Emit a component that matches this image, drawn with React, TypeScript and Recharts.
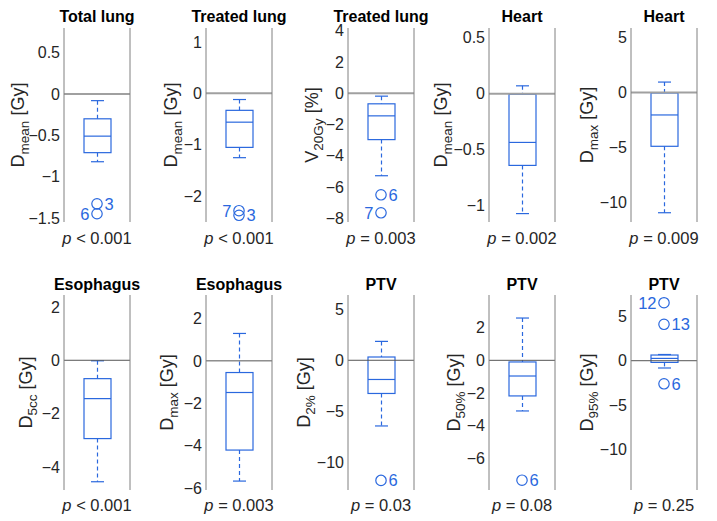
import React from "react";
import { ComposedChart, Bar, Scatter, XAxis, YAxis, ReferenceLine } from "recharts";

// panel text
const panelTitles = ["Total lung", "Treated lung", "Treated lung", "Heart", "Heart", "Esophagus", "Esophagus", "PTV", "PTV", "PTV"];
const yLabelMain = ["D", "D", "V", "D", "D", "D", "D", "D", "D", "D"];
const yLabelSub = ["mean", "mean", "20Gy", "mean", "max", "5cc", "max", "2%", "50%", "95%"];
const yLabelUnit = ["[Gy]", "[Gy]", "[%]", "[Gy]", "[Gy]", "[Gy]", "[Gy]", "[Gy]", "[Gy]", "[Gy]"];
const pValues = ["< 0.001", "< 0.001", "= 0.003", "= 0.002", "= 0.009", "< 0.001", "= 0.003", "= 0.03", "= 0.08", "= 0.25"];

// box statistics (differences)
const boxLow = [-0.82, -1.25, -5.28, -1.07, -10.9, -4.56, -5.66, -6.43, -3.1, -0.82];
const boxQ1 = [-0.71, -1.05, -2.97, -0.64, -4.88, -2.94, -4.2, -3.25, -2.18, -0.19];
const boxMedian = [-0.51, -0.56, -1.45, -0.435, -2.04, -1.44, -1.49, -1.88, -0.96, 0.26];
const boxQ3 = [-0.3, -0.33, -0.68, -0.005, -0.05, -0.69, -0.55, 0.32, -0.1, 0.64];
const boxHigh = [-0.08, -0.12, -0.19, 0.07, 0.94, -0.02, 1.29, 1.85, 2.59, 0.7];

// outliers with patient numbers
const outlierValues = [[-1.33, -1.45], [-2.28, -2.37], [-6.5, -7.65], [], [], [], [], [-11.76], [-7.34], [6.53, 4.1, -2.6]];
const outlierLabels = [["3", "6"], ["7", "3"], ["6", "7"], [], [], [], [], ["6"], ["6"], ["12", "13", "6"]];
const outlierSides = [["right", "left"], ["left", "right"], ["right", "left"], [], [], [], [], ["right"], ["right"], ["left", "right", "right"]];

// axes
const yDomains = [[-1.55, 0.8], [-2.5, 1.27], [-8.24, 4.17], [-1.145, 0.586], [-11.74, 5.84], [-4.87, 2.45], [-6.08, 3.1], [-12.7, 6.39], [-7.94, 4.0], [-14.56, 7.4]];
const yTicks = [
  [-1.5, -1, -0.5, 0, 0.5],
  [-2, -1, 0, 1],
  [-8, -6, -4, -2, 0, 2, 4],
  [-1, -0.5, 0, 0.5],
  [-10, -5, 0, 5],
  [-4, -2, 0, 2],
  [-6, -4, -2, 0, 2],
  [-10, -5, 0, 5],
  [-6, -4, -2, 0, 2],
  [-10, -5, 0, 5],
];

const PLOT_LEFT = [64, 206, 348, 489, 631];
const PLOT_W = 66;
const ROW_TOP = [28, 295];
const ROW_BOTTOM = [222, 490];
const LABEL_DX = [40, 29, 30, 42, 38, 32, 33, 38, 29, 38];
const BLUE = "#2a68de";
const FRAME = "#808080";
const FONT = "'Liberation Sans', Arial, sans-serif";

const fmt = (v: number) => String(v).replace("-", "\u2212");

const BoxShape = (props: any) => {
  const { x, y, width, height, payload } = props;
  const top = Math.min(y, y + height);
  const bottom = Math.max(y, y + height);
  const { lo, hi, q1, q3, med } = payload;
  const px = (v: number) => top + ((hi - v) / (hi - lo)) * (bottom - top);
  const cx = x + width / 2;
  const cap = 6.5;
  return (
    <g stroke={BLUE} strokeWidth={1.2} fill="none">
      <line x1={cx} x2={cx} y1={px(hi)} y2={px(q3)} strokeDasharray="4 3" />
      <line x1={cx} x2={cx} y1={px(q1)} y2={px(lo)} strokeDasharray="4 3" />
      <line x1={cx - cap} x2={cx + cap} y1={px(hi)} y2={px(hi)} />
      <line x1={cx - cap} x2={cx + cap} y1={px(lo)} y2={px(lo)} />
      <rect x={x} y={px(q3)} width={width} height={px(q1) - px(q3)} />
      <line x1={x} x2={x + width} y1={px(med)} y2={px(med)} />
    </g>
  );
};

const OutlierShape = (props: any) => {
  const { cx, cy, payload } = props;
  const right = payload.side === "right";
  return (
    <g>
      <circle cx={cx} cy={cy} r={5.2} fill="none" stroke={BLUE} strokeWidth={1.2} />
      <text x={right ? cx + 7.5 : cx - 7.5} y={cy} dy="0.36em" textAnchor={right ? "start" : "end"} fontSize={16.5} fill={BLUE}>
        {payload.label}
      </text>
    </g>
  );
};

function Panel({ i }: { i: number }) {
  const row = i < 5 ? 0 : 1;
  const col = i % 5;
  const data = [
    { name: "x", range: [boxLow[i], boxHigh[i]], lo: boxLow[i], q1: boxQ1[i], med: boxMedian[i], q3: boxQ3[i], hi: boxHigh[i] },
  ];
  const outliers = outlierValues[i].map((v, k) => ({ name: "x", v, label: outlierLabels[i][k], side: outlierSides[i][k] }));
  const domain = yDomains[i];
  return (
    <div style={{ position: "absolute", left: PLOT_LEFT[col] - 60, top: row === 0 ? 0 : 260 }}>
      <ComposedChart
        width={140}
        height={260}
        data={data}
        margin={{ top: ROW_TOP[row] - row * 260, right: 14, bottom: 260 - (ROW_BOTTOM[row] - row * 260), left: 10 }}
      >
        <XAxis dataKey="name" type="category" allowDuplicatedCategory={false} tick={false} tickLine={false} axisLine={{ stroke: FRAME }} height={0} />
        <XAxis xAxisId="top" orientation="top" dataKey="name" type="category" allowDuplicatedCategory={false} tick={false} tickLine={false} axisLine={{ stroke: FRAME }} height={0} />
        <YAxis
          type="number"
          domain={domain}
          ticks={yTicks[i]}
          allowDataOverflow
          width={50}
          tickSize={0}
          tickMargin={4}
          tickLine={false}
          axisLine={{ stroke: FRAME }}
          tickFormatter={fmt}
          tick={{ fill: "#262626", fontSize: 16 }}
        />
        <YAxis yAxisId="lm" orientation="left" mirror type="number" domain={domain} ticks={yTicks[i]} allowDataOverflow tick={false} tickSize={4} tickLine={{ stroke: FRAME }} axisLine={false} />
        <YAxis yAxisId="r" orientation="right" mirror type="number" domain={domain} ticks={yTicks[i]} allowDataOverflow tick={false} tickSize={4} tickLine={{ stroke: FRAME }} axisLine={{ stroke: FRAME }} />
        <ReferenceLine y={0} stroke={row === 0 ? "#a0a0a0" : "#555555"} strokeWidth={row === 0 ? 2 : 1} />
        <Bar dataKey="range" barSize={27} shape={BoxShape} isAnimationActive={false} />
        {outliers.length > 0 && <Scatter data={outliers} dataKey="v" shape={OutlierShape} isAnimationActive={false} />}
      </ComposedChart>
    </div>
  );
}

export default function App() {
  const idx = [0, 1, 2, 3, 4, 5, 6, 7, 8, 9];
  return (
    <div style={{ position: "absolute", left: 0, top: 0, width: 717, height: 521, background: "#fff", fontFamily: FONT }}>
      {idx.map((i) => (
        <Panel key={i} i={i} />
      ))}
      <svg width={717} height={521} style={{ position: "absolute", left: 0, top: 0, pointerEvents: "none" }} fontFamily={FONT}>
        {idx.map((i) => {
          const row = i < 5 ? 0 : 1;
          const cx = PLOT_LEFT[i % 5] + PLOT_W / 2;
          const cy = (ROW_TOP[row] + ROW_BOTTOM[row]) / 2;
          const lx = PLOT_LEFT[i % 5] - LABEL_DX[i];
          return (
            <g key={i}>
              <text x={cx} y={row === 0 ? 22 : 290} textAnchor="middle" fontSize={16} fontWeight="bold" fill="#000">
                {panelTitles[i]}
              </text>
              <text x={cx} y={row === 0 ? 244 : 511} textAnchor="middle" fontSize={16.5} fill="#262626">
                <tspan fontStyle="italic">p</tspan> {pValues[i]}
              </text>
              <text transform={`rotate(-90 ${lx} ${cy})`} x={lx} y={cy} textAnchor="middle" fontSize={18} fill="#262626">
                {yLabelMain[i]}
                <tspan fontSize={13.5} dy={5}>{yLabelSub[i]}</tspan>
                <tspan dy={-5}> {yLabelUnit[i]}</tspan>
              </text>
            </g>
          );
        })}
      </svg>
    </div>
  );
}
